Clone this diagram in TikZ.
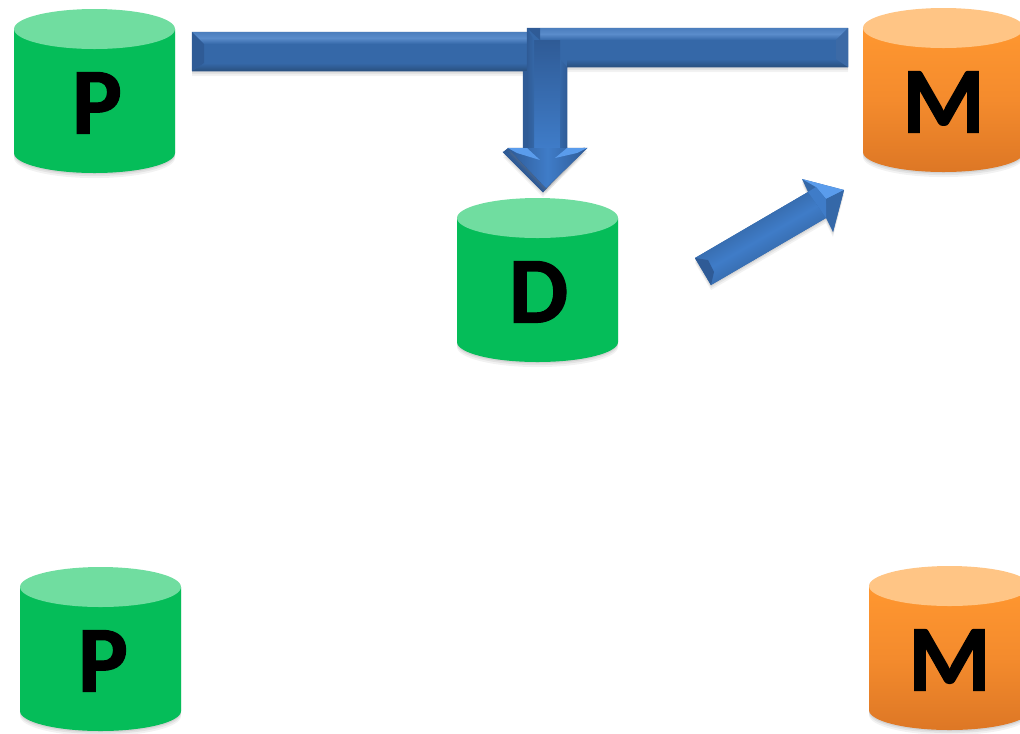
\documentclass[tikz,border=0pt]{standalone}
\usepackage{xcolor}
\usepackage{fontspec}
\setmainfont[BoldFeatures={FakeBold=1.2}]{Carlito}
\usetikzlibrary{shadows}
\definecolor{greentop}{HTML}{70DDA0}
\definecolor{greenbody}{HTML}{05BD59}
\definecolor{orangetop}{HTML}{FFC585}
\definecolor{orangehi}{HTML}{FF9730}
\definecolor{orangemid}{HTML}{F48B2D}
\definecolor{orangelow}{HTML}{DD7725}
\definecolor{barface}{HTML}{3568A8}
\definecolor{barhi}{HTML}{5A8CCB}
\definecolor{barlow}{HTML}{29507F}
\definecolor{barside}{HTML}{2F5B96}
\definecolor{stemface}{HTML}{3F7CC8}
\definecolor{headhi}{HTML}{5A9CEC}
\tikzset{softshadow/.style={drop shadow={shadow xshift=0pt,shadow yshift=-1pt,opacity=.16},
                            drop shadow={shadow xshift=0pt,shadow yshift=-2.2pt,opacity=.13},
                            drop shadow={shadow xshift=0pt,shadow yshift=-3.6pt,opacity=.1}},
         greenbody/.style={fill=greenbody},
         greenlid/.style={fill=greentop},
         orangebody/.style={top color=orangehi,bottom color=orangelow,middle color=orangemid},
         orangelid/.style={fill=orangetop},
         dblabel/.style={font=\fontsize{67}{67}\selectfont\bfseries,text=black,inner sep=0pt,anchor=base},
         barbase/.style={fill=barface,draw=barside,line width=0.3pt},
         bevelhi/.style={top color=barhi!60!barface,bottom color=barface,middle color=barhi},
         bevellow/.style={top color=barface,bottom color=barlow},
         bevelside/.style={fill=barside}}
\begin{document}
\begin{tikzpicture}[x=0.025cm,y=-0.025cm]
\useasboundingbox (0,0) rectangle (1020,733);
% cylinders
\foreach \cx/\cy/\cname/\ctext/\ckind/\cshift in {94.5/9/pa/P/green/2.5,537.5/198/d/D/green/1,943.5/8/ma/M/orange/0,100.5/567/pb/P/green/2.5,949.5/566/mb/M/orange/0}{
  \path[\ckind body,softshadow] (\cx-80.5,\cy+20) -- (\cx-80.5,\cy+144) arc[start angle=180,end angle=0,x radius=80.5,y radius=20]
    -- (\cx+80.5,\cy+20) -- cycle;
  \path[\ckind lid] (\cx,\cy+20) ellipse[x radius=80.5,y radius=20];
  \node[dblabel] (\cname) at (\cx+\cshift,\cy+124.5) {\ctext};
}
% arrow from the upper P, lies behind
\coordinate (ptail) at (192,32);
\coordinate (ptip) at (543,192);
\path[barbase,softshadow] (ptail) -- (563,32) -- (563,152) -- (584,148) -- (ptip) -- (503,152) -- (523,152) -- (523,71) -- (192,71) -- cycle;
\path[bevelhi] (ptail) -- (527,32) -- (527,44) -- (204,44) -- cycle;
\path[bevellow] (192,71) -- (527,71) -- (527,63) -- (204,63) -- cycle;
\path[bevelside] (ptail) -- (204,44) -- (204,63) -- (192,71) -- cycle;
\path[fill=barside] (523,71) rectangle (528,152);
\path[fill=barside] (503,152) -- (ptip) -- (547,188) -- (508,148) -- cycle;
% arrow from the upper M, on top
\coordinate (mtail) at (848,28);
\coordinate (mtip) at (546,188);
\path[barbase,softshadow] (mtail) -- (848,67) -- (567,67) -- (567,148) -- (587,148) -- (mtip) -- (508,148) -- (527,148) -- (527,28) -- cycle;
\path[bevelhi] (540,28) -- (mtail) -- (836,40) -- (540,40) -- cycle;
\path[bevellow] (567,67) -- (848,67) -- (836,59) -- (567,59) -- cycle;
\path[fill=barside!70!barhi] (mtail) -- (836,40) -- (836,59) -- (848,67) -- cycle;
\path[top color=barside,bottom color=stemface] (534,40) rectangle (560,148);
\path[left color=barside,right color=barface] (527,28) -- (534,40) -- (534,148) -- (527,148) -- cycle;
\path[left color=barface,right color=barside] (560,59) -- (567,67) -- (567,148) -- (560,148) -- cycle;
\path[fill=barside] (527,28) -- (540,28) -- (540,40) -- cycle;
\path[left color=barside,right color=barside,middle color=stemface] (587,148) -- (mtip) -- (508,148) -- cycle;
\path[fill=headhi] (508,148) -- (527,148) -- (540,160) -- (517,153) -- cycle;
\path[fill=headhi] (587,148) -- (567,148) -- (555,158) -- (577,153) -- cycle;
% arrow from D to the upper M
\coordinate (dtaila) at (695,258);
\coordinate (dtailb) at (711,285);
\coordinate (dtip) at (844,190);
\path[fill=barface,softshadow] (dtaila) -- (808,192) -- (802,179) -- (dtip) -- (833,232) -- (826,218) -- (dtailb) -- cycle;
\path[top color=barlow,bottom color=barlow,middle color=stemface,shading angle=30] (dtaila) -- (808,192) -- (826,218) -- (dtailb) -- cycle;
\path[fill=barside] (dtaila) -- (708,260) -- (714,272) -- (dtailb) -- cycle;
\path[fill=headhi] (802,179) -- (dtip) -- (826,199) -- (816,187) -- cycle;
\path[fill=stemface] (808,192) -- (816,187) -- (826,199) -- (826,218) -- cycle;
\path[fill=barface] (dtip) -- (833,232) -- (826,199) -- cycle;
\end{tikzpicture}
\end{document}
